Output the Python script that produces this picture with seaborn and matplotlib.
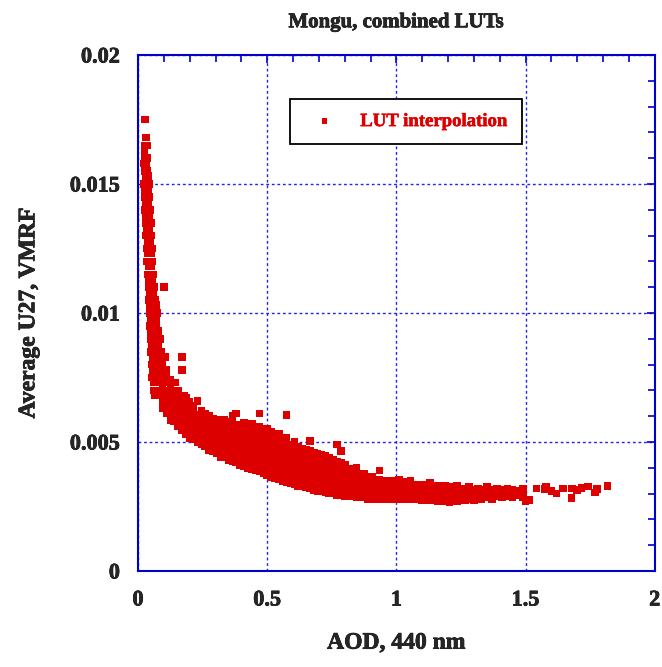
import matplotlib
matplotlib.use("Agg")
import matplotlib.pyplot as plt
import matplotlib.patheffects as pe
from matplotlib.ticker import MultipleLocator
import seaborn as sns
import pandas as pd

# steep part near AOD ~ 0 : rows of constant VMRF (units 1e-3) with their AOD values
steep_vmrf = [17.5, 16.8, 16.5, 16.2, 16.0, 15.8, 15.5, 15.3, 15.0, 14.8, 14.5, 14.3,
              14.0, 13.8, 13.5, 13.3, 13.0, 12.8, 12.5, 12.3, 12.0, 11.8, 11.5, 11.3,
              11.0, 10.8, 10.5, 10.3, 10.0, 9.8, 9.5, 9.3, 9.0, 8.8, 8.5, 8.3, 8.0,
              7.8, 7.5, 7.3, 7.0, 6.8]
steep_aod = [
    [0.027], [0.03], [0.028, 0.035], [0.025], [0.028, 0.036], [0.022, 0.03],
    [0.025, 0.035], [0.03, 0.04], [0.022, 0.032, 0.042], [0.028, 0.038],
    [0.025, 0.035, 0.045], [0.03, 0.04], [0.028, 0.038, 0.048], [0.032, 0.044],
    [0.03, 0.04, 0.05], [0.035, 0.045], [0.032, 0.042, 0.05], [0.036, 0.047],
    [0.034, 0.044, 0.054], [0.038, 0.05], [0.035, 0.046, 0.056], [0.04, 0.052],
    [0.038, 0.048, 0.058], [0.042, 0.055], [0.04, 0.05, 0.062, 0.10], [0.045, 0.058],
    [0.042, 0.052, 0.065], [0.047, 0.06, 0.07], [0.044, 0.055, 0.066, 0.075],
    [0.05, 0.062, 0.072], [0.046, 0.058, 0.07], [0.05, 0.064, 0.078],
    [0.048, 0.06, 0.072, 0.084], [0.055, 0.068, 0.08], [0.05, 0.062, 0.075, 0.088],
    [0.056, 0.07, 0.084, 0.104], [0.052, 0.065, 0.078, 0.092],
    [0.058, 0.072, 0.086, 0.1, 0.11], [0.055, 0.068, 0.082, 0.096, 0.11],
    [0.06, 0.075, 0.09, 0.105, 0.143], [0.062, 0.078, 0.094, 0.11, 0.125, 0.145],
    [0.066, 0.082, 0.1, 0.118, 0.135, 0.18],
]

# main band: columns of constant AOD with their VMRF values (units 1e-3)
band_aod = [0.095, 0.11, 0.125, 0.14, 0.155, 0.17, 0.185, 0.20, 0.215, 0.23, 0.245,
            0.26, 0.275, 0.29, 0.305, 0.32, 0.335, 0.35, 0.365, 0.38, 0.395, 0.41,
            0.425, 0.44, 0.455, 0.47, 0.485, 0.50, 0.515, 0.53, 0.545, 0.56, 0.575,
            0.59, 0.605, 0.62, 0.635, 0.65, 0.665, 0.68, 0.695, 0.71, 0.725, 0.74,
            0.755, 0.77, 0.785, 0.80, 0.815, 0.83, 0.845, 0.86, 0.875, 0.89, 0.905,
            0.92, 0.935, 0.95, 0.965, 0.98, 0.995, 1.01, 1.025, 1.04, 1.055, 1.07,
            1.085, 1.10, 1.115, 1.13, 1.145, 1.16, 1.175, 1.19, 1.205, 1.22, 1.235,
            1.25, 1.265, 1.28, 1.30, 1.315, 1.33, 1.35, 1.37, 1.39, 1.41, 1.43,
            1.45, 1.47, 1.49, 1.50, 1.515]
band_vmrf = [
    [6.3, 6.6, 6.9, 7.2, 7.5, 7.8], [6.1, 6.4, 6.7, 7.0, 7.3, 7.6],
    [5.85, 6.0, 6.25, 6.5, 6.8, 7.1, 7.4], [5.8, 6.05, 6.3, 6.6, 6.9, 7.3],
    [5.6, 5.9, 6.15, 6.4, 6.7, 7.0], [5.45, 5.7, 6.0, 6.25, 6.5, 6.8, 7.8, 8.3],
    [5.3, 5.55, 5.85, 6.1, 6.35, 6.7], [5.15, 5.4, 5.7, 5.95, 6.2, 6.55],
    [5.1, 5.35, 5.6, 5.85, 6.1, 6.4], [5.0, 5.25, 5.5, 5.8, 6.05, 6.6],
    [4.9, 5.15, 5.4, 5.65, 5.9, 6.2], [4.85, 5.1, 5.35, 5.6, 5.85, 6.1],
    [4.7, 4.95, 5.2, 5.45, 5.7, 6.0], [4.65, 4.9, 5.15, 5.4, 5.65, 5.9],
    [4.55, 4.8, 5.05, 5.3, 5.55, 5.85], [4.4, 4.7, 4.95, 5.2, 5.45, 5.75],
    [4.4, 4.65, 4.9, 5.15, 5.4, 5.65, 5.85], [4.3, 4.55, 4.8, 5.05, 5.3, 5.55, 5.8],
    [4.25, 4.5, 4.75, 5.0, 5.25, 5.5, 5.75, 6.0], [4.2, 4.4, 4.65, 4.9, 5.15, 5.4, 5.65, 6.1],
    [4.1, 4.35, 4.6, 4.85, 5.1, 5.35, 5.6], [4.05, 4.3, 4.55, 4.8, 5.05, 5.3, 5.55, 5.75],
    [4.0, 4.25, 4.5, 4.75, 5.0, 5.25, 5.5], [3.95, 4.2, 4.45, 4.7, 4.95, 5.2, 5.45, 5.7],
    [3.9, 4.15, 4.4, 4.65, 4.9, 5.15, 5.4], [3.85, 4.1, 4.35, 4.6, 4.85, 5.1, 5.35, 5.6, 6.1],
    [3.8, 4.05, 4.3, 4.55, 4.8, 5.05, 5.3], [3.7, 3.95, 4.2, 4.45, 4.7, 4.95, 5.2, 5.5],
    [3.65, 3.9, 4.15, 4.4, 4.65, 4.9, 5.15, 5.4], [3.6, 3.85, 4.1, 4.35, 4.6, 4.85, 5.1],
    [3.55, 3.8, 4.05, 4.3, 4.55, 4.8, 5.05, 5.3], [3.5, 3.75, 4.0, 4.25, 4.5, 4.75, 5.0],
    [3.45, 3.7, 3.95, 4.2, 4.45, 4.7, 4.95, 5.15, 6.05], [3.4, 3.65, 3.9, 4.15, 4.4, 4.65, 4.9],
    [3.35, 3.6, 3.85, 4.1, 4.35, 4.6, 4.85, 5.0], [3.3, 3.55, 3.8, 4.05, 4.3, 4.55, 4.8],
    [3.3, 3.5, 3.75, 4.0, 4.25, 4.5, 4.75], [3.25, 3.45, 3.7, 3.95, 4.2, 4.45, 4.7],
    [3.2, 3.4, 3.65, 3.9, 4.15, 4.4, 4.65, 5.05], [3.15, 3.4, 3.6, 3.85, 4.1, 4.35, 4.6],
    [3.1, 3.35, 3.55, 3.8, 4.05, 4.3, 4.55], [3.1, 3.3, 3.55, 3.75, 4.0, 4.25, 4.5],
    [3.05, 3.3, 3.5, 3.75, 3.95, 4.2, 4.45], [3.0, 3.25, 3.45, 3.7, 3.9, 4.15, 4.4],
    [3.0, 3.2, 3.45, 3.65, 3.85, 4.1, 4.3], [2.95, 3.2, 3.4, 3.6, 3.8, 4.05, 4.25, 4.9],
    [2.95, 3.15, 3.35, 3.55, 3.8, 4.0, 4.2, 4.65], [2.9, 3.1, 3.35, 3.55, 3.75, 3.95, 4.1],
    [2.9, 3.1, 3.3, 3.5, 3.7, 3.9], [2.9, 3.1, 3.3, 3.5, 3.7, 3.95],
    [2.85, 3.05, 3.25, 3.45, 3.65, 3.85, 4.0], [2.85, 3.05, 3.25, 3.45, 3.65],
    [2.85, 3.0, 3.2, 3.4, 3.6, 3.75], [2.8, 3.0, 3.2, 3.4, 3.6],
    [2.8, 3.0, 3.2, 3.35, 3.55, 3.65], [2.8, 3.0, 3.15, 3.35, 3.5],
    [2.85, 3.0, 3.2, 3.4, 3.55, 3.9], [2.8, 2.95, 3.15, 3.35, 3.5],
    [2.85, 3.05, 3.25, 3.45], [2.8, 3.0, 3.15, 3.35, 3.5], [2.85, 3.05, 3.25, 3.45],
    [2.8, 3.0, 3.2, 3.4, 3.55], [2.9, 3.1, 3.3, 3.45], [2.8, 3.0, 3.2, 3.4],
    [2.9, 3.1, 3.3, 3.5], [2.8, 3.0, 3.2, 3.35], [2.9, 3.1, 3.3],
    [2.75, 2.95, 3.15, 3.35], [2.85, 3.05, 3.25], [2.75, 2.95, 3.15, 3.4],
    [2.85, 3.05, 3.25], [2.7, 2.9, 3.1, 3.3], [2.8, 3.0, 3.2], [2.7, 2.9, 3.1, 3.3],
    [2.65, 2.85, 3.05, 3.25], [2.75, 2.95, 3.15], [2.7, 2.9, 3.1, 3.3],
    [2.8, 3.0, 3.2], [2.75, 2.95, 3.15], [2.8, 3.0, 3.25], [2.75, 2.95, 3.15],
    [2.85, 3.05, 3.2], [2.8, 3.0, 3.15], [2.85, 3.05, 3.25], [2.8, 3.0, 3.15],
    [2.9, 3.05, 3.2], [2.85, 3.0, 3.15], [2.9, 3.1, 3.2], [2.85, 3.0, 3.15],
    [2.95, 3.1], [2.85, 3.0, 3.2], [2.7], [2.75],
]

# sparse tail at high AOD
tail_aod = [1.542, 1.575, 1.58, 1.60, 1.62, 1.645, 1.678, 1.68, 1.70, 1.716,
            1.742, 1.768, 1.776, 1.817]
tail_vmrf = [3.2, 3.19, 3.27, 3.1, 3.01, 3.2, 2.82, 3.2, 3.15, 3.22,
             3.27, 3.04, 3.18, 3.29]

x_ticks = [0, 0.5, 1, 1.5, 2]
x_ticklabels = ["0", "0.5", "1", "1.5", "2"]
y_ticks = [0, 0.005, 0.01, 0.015, 0.02]
y_ticklabels = ["0", "0.005", "0.01", "0.015", "0.02"]

aod, vmrf = [], []
for v, xs in zip(steep_vmrf, steep_aod):
    aod += xs
    vmrf += [v] * len(xs)
for x, vs in zip(band_aod, band_vmrf):
    aod += [x] * len(vs)
    vmrf += vs
aod += tail_aod
vmrf += tail_vmrf
df = pd.DataFrame({"AOD": aod, "VMRF": [v * 1e-3 for v in vmrf]})

sns.set_style("white")
plt.rcParams["font.family"] = ["Liberation Serif", "DejaVu Serif"]
plt.rcParams["font.weight"] = "bold"

red = "#dd0000"
blue = "#0000cc"


def embolden(txt, color="black", w=0.5):
    txt.set_path_effects([pe.withStroke(linewidth=w, foreground=color)])


fig = plt.figure(figsize=(6.62, 6.67), dpi=100)
ax = fig.add_axes([0.2085, 0.1439, 0.7805, 0.7736])

sns.scatterplot(data=df, x="AOD", y="VMRF", ax=ax, marker="s", s=30,
                color=red, edgecolor="none", linewidth=0, label="LUT interpolation")

ax.set_xlim(0, 2)
ax.set_ylim(0, 0.02)
ax.set_xticks(x_ticks)
ax.set_xticklabels(x_ticklabels, fontsize=16, fontweight="bold")
ax.set_yticks(y_ticks)
ax.set_yticklabels(y_ticklabels, fontsize=16, fontweight="bold")
ax.xaxis.set_minor_locator(MultipleLocator(0.1))
ax.yaxis.set_minor_locator(MultipleLocator(0.001))
ax.tick_params(which="both", direction="in", top=True, right=True, color=blue, width=1.2)
ax.tick_params(which="major", length=6)
ax.tick_params(which="minor", length=5)
ax.tick_params(axis="y", which="major", pad=13)
ax.tick_params(axis="x", which="major", pad=14)
for t in ax.get_xticklabels() + ax.get_yticklabels():
    embolden(t)

for sp in ax.spines.values():
    sp.set_color(blue)
    sp.set_linewidth(1.5)

ax.grid(True, which="major", color="#2222ee", linestyle=(0, (2, 2)), linewidth=1)
ax.set_axisbelow(True)

embolden(ax.set_xlabel("AOD, 440 nm", fontsize=17, fontweight="bold", labelpad=16))
embolden(ax.set_ylabel("Average U27, VMRF", fontsize=17, fontweight="bold", labelpad=22))
embolden(ax.set_title("Mongu, combined LUTs", fontsize=15, fontweight="bold", pad=20))

leg = ax.legend(loc="upper left", bbox_to_anchor=(0.294, 0.915), borderaxespad=0,
                frameon=True, fancybox=False, edgecolor="black", framealpha=1,
                markerscale=0.7, handlelength=2.2, handletextpad=0.8, borderpad=0.75,
                prop={"size": 13.5, "weight": "bold"})
leg.get_frame().set_linewidth(1.3)
for t in leg.get_texts():
    t.set_color(red)
    embolden(t, red, 0.4)

fig.savefig("out.png", dpi=100)
